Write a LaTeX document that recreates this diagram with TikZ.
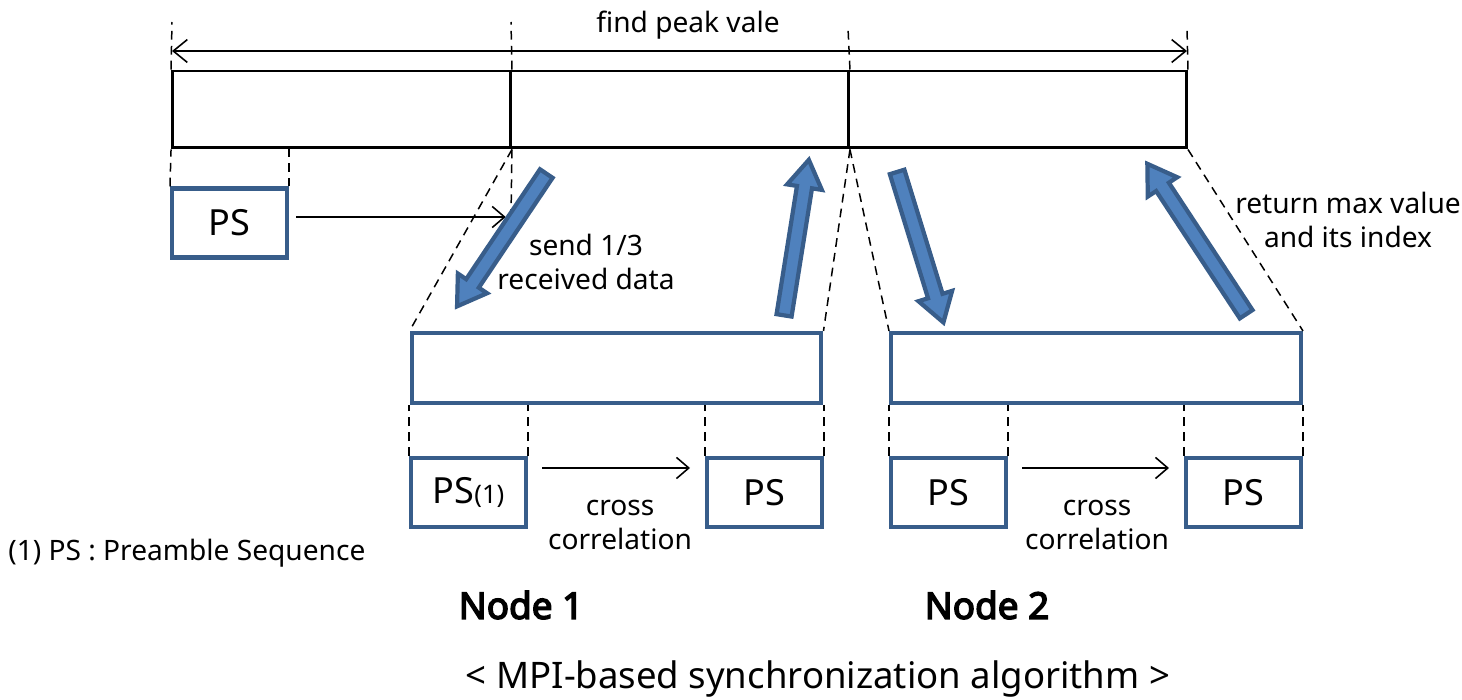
\documentclass[tikz,border=0pt]{standalone}
\usepackage{fontspec}
\setmainfont{Noto Sans}[AutoFakeBold=4]
\usepackage{tikz}
\usetikzlibrary{shapes.arrows,positioning,calc}
\usetikzlibrary{arrows.meta}
\definecolor{boxblue}{RGB}{56,93,138}
\definecolor{arrowblue}{RGB}{79,129,189}
\tikzstyle{seg} = [rectangle, minimum width=6.76cm, minimum height=1.54cm, draw=black, line width=1.7pt, inner sep=0pt]
\tikzstyle{psbox} = [rectangle, minimum width=2.3cm, minimum height=1.38cm, draw=boxblue, line width=2.3pt, inner sep=0pt, font=\fontsize{20.5}{24}\selectfont]
\tikzstyle{nodebox} = [rectangle, minimum width=8.2cm, minimum height=1.4cm, draw=boxblue, line width=2.3pt, inner sep=0pt]
\tikzstyle{flow} = [line width=0.9pt, -{Straight Barb[length=7pt,width=12pt]}]
\tikzstyle{dim} = [line width=0.9pt, {Straight Barb[length=8pt,width=13pt]}-{Straight Barb[length=8pt,width=13pt]}]
\tikzstyle{guide} = [line width=0.85pt, dash pattern=on 5pt off 3.5pt]
\tikzstyle{bigarrow} = [single arrow, draw=boxblue, fill=arrowblue, line width=2.4pt, inner xsep=0pt, inner ysep=0.11cm, single arrow head extend=0.2cm, single arrow tip angle=65]
\tikzstyle{txt} = [font=\fontsize{16}{19}\selectfont, align=center, inner sep=0pt]

\begin{document}
\begin{tikzpicture}[x=0.02cm, y=-0.02cm]
\useasboundingbox (0,0) rectangle (1462,699);
% received data, split in three
\node[seg] (s1) at (341.5,109.5) {};
\node[seg] (s2) at (679.5,109.5) {};
\node[seg] (s3) at (1017.5,109.5) {};
\coordinate (t1) at (172,22);
\coordinate (t2) at (511,22);
\coordinate (t3) at (848,28);
\coordinate (t4) at (1187,28);
\draw[guide] (s1.north west) -- (t1);
\draw[guide] (s1.north east) -- (t2);
\draw[guide] (s2.north east) -- (t3);
\draw[guide] (s3.north east) -- (t4);
\coordinate (d1) at (172,51);
\coordinate (d2) at (1187,51);
\draw[dim] (d1) -- (d2);
\node[txt] (peak) at (688,25) {find peak vale};

% preamble sequence sliding over the data
\node[psbox] (ps0) at (229.5,223) {PS};
\draw[guide] (ps0.north west) -- (s1.south west);
\draw[guide] (ps0.north east) -- (ps0.north east |- s1.south);
\coordinate (c0) at (296,217);
\coordinate (c1) at (511,217);
\draw[guide] (s1.south east) -- (c1);
\draw[flow, shorten >=3pt] (c0) -- (c1);

% node boxes
\node[nodebox] (nb1) at (616.5,368) {};
\node[nodebox] (nb2) at (1096,368) {};
\draw[guide] (s1.south east) -- (nb1.north west);
\draw[guide] (s2.south east) -- (nb1.north east);
\draw[guide] (s2.south east) -- (nb2.north west);
\draw[guide] (s3.south east) -- (nb2.north east);

\node[psbox] (p11) at (468.5,492.5) {PS{\fontsize{14.5}{16}\selectfont(1)}};
\node[psbox] (p12) at (764.5,492.5) {PS};
\node[psbox] (p21) at (948.5,492.5) {PS};
\node[psbox] (p22) at (1243.5,492.5) {PS};
\foreach \p in {p11,p12,p21,p22} {
  \draw[guide] (\p.north west) -- (\p.north west |- nb1.south);
  \draw[guide] (\p.north east) -- (\p.north east |- nb1.south);
}
\draw[flow] ($(p11.north east)+(14,12)$) -- ($(p12.north west)+(-15,12)$);
\draw[flow] ($(p21.north east)+(14,12)$) -- ($(p22.north west)+(-15,12)$);
\node[txt] (cc1) at (620,525) {cross\\correlation};
\node[txt] (cc2) at (1097,525) {cross\\correlation};

% send / return
\node[bigarrow, rotate=-123.9, minimum height=3.2cm] (a1) at (505,235) {};
\node[bigarrow, rotate=80.95, minimum height=3.15cm] (a2) at (795.5,243.5) {};
\node[bigarrow, rotate=-72.9, minimum height=3.15cm] (a3) at (918.5,241.5) {};
\node[bigarrow, rotate=123.3, minimum height=3.6cm] (a4) at (1200,244) {};
\node[txt] (send) at (586,262) {send 1/3\\received data};
\node[txt] (ret) at (1348,220) {return max value\\and its index};

\node[txt, anchor=west] (note) at (8,553) {(1) PS : Preamble Sequence};
\node[txt, font=\fontsize{21}{26}\selectfont\bfseries] (n1) at (521,605) {Node 1};
\node[txt, font=\fontsize{21}{26}\selectfont\bfseries] (n2) at (987,605) {Node 2};
\node[txt, font=\fontsize{20.8}{24}\selectfont] (title) at (818,679) {< MPI-based synchronization algorithm >};
\end{tikzpicture}
\end{document}
